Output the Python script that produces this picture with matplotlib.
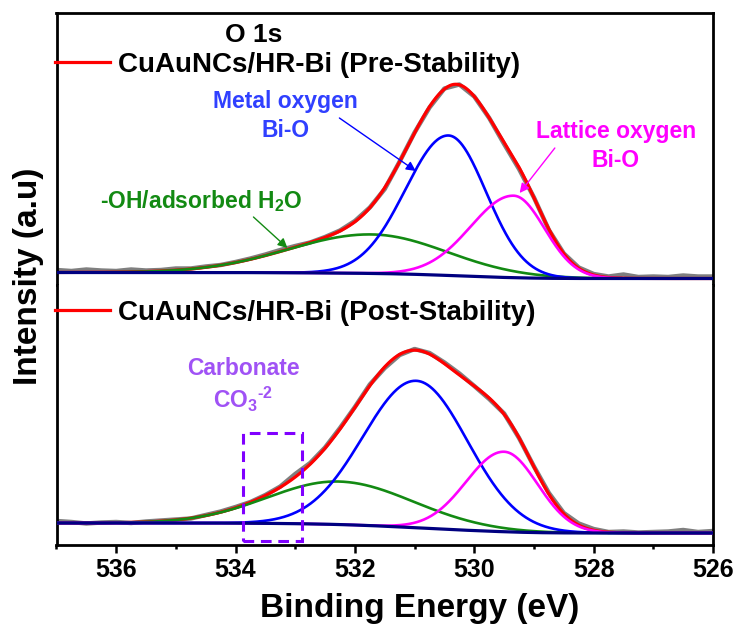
import numpy as np
import matplotlib
matplotlib.use("Agg")
import matplotlib.pyplot as plt
from matplotlib.patches import Rectangle
from matplotlib.ticker import MultipleLocator

plt.rcParams["font.family"] = ["Liberation Sans", "DejaVu Sans"]
plt.rcParams["font.weight"] = "bold"
plt.rcParams["mathtext.fontset"] = "custom"
plt.rcParams["mathtext.rm"] = "Liberation Sans:bold"
plt.rcParams["mathtext.it"] = "Liberation Sans:bold"
plt.rcParams["mathtext.bf"] = "Liberation Sans:bold"
plt.rcParams["mathtext.default"] = "rm"

# ---------------- data ----------------
# O 1s fit components: -OH/adsorbed H2O, metal oxygen Bi-O, lattice oxygen Bi-O
pre_center = [531.72, 530.43, 529.34]
pre_height = [39.0, 140.0, 82.0]
pre_hwhm_high = [1.63, 0.85, 0.85]   # half width toward higher binding energy
pre_hwhm_low = [1.48, 0.74, 0.61]    # half width toward lower binding energy
pre_background = [12.5, 6.5]         # Shirley background at 537 eV and 526 eV

post_center = [532.27, 530.97, 529.50]
post_height = [43.0, 147.0, 80.0]
post_hwhm_high = [1.40, 1.05, 0.75]
post_hwhm_low = [1.47, 1.01, 0.66]
post_background = [22.0, 12.0]

# measured spectra, 537 -> 526 eV in 0.25 eV steps
pre_raw = [15.0, 14.0, 15.5, 14.5, 14.0, 15.5, 14.5, 15.0, 16.5, 16.5,
           18.5, 20.0, 23.0, 26.5, 30.5, 35.0, 39.0, 42.5, 48.0, 54.5,
           64.0, 77.5, 96.0, 123.5, 152.5, 177.5, 196.5, 200.5, 188.5, 167.0,
           141.0, 116.0, 87.5, 55.0, 31.5, 17.5, 11.0, 8.5, 10.5, 8.0,
           8.5, 8.0, 9.5, 8.5, 8.5]
post_raw = [24.0, 23.0, 21.5, 22.5, 23.0, 22.0, 23.5, 24.5, 25.5, 26.5,
            30.0, 33.5, 38.0, 43.0, 50.0, 58.5, 71.0, 82.0, 97.5, 117.0,
            138.0, 160.5, 177.0, 190.0, 196.0, 192.0, 182.5, 171.5, 159.0, 146.0,
            131.5, 107.0, 78.5, 52.0, 32.0, 21.5, 16.0, 13.0, 13.5, 12.5,
            13.0, 13.5, 15.0, 13.0, 14.0]

carbonate_range = [533.87, 532.88]
carbonate_levels = [4.0, 112.0]

xticks_major = [536, 534, 532, 530, 528, 526]

labels = ["CuAuNCs/HR-Bi (Pre-Stability)", "CuAuNCs/HR-Bi (Post-Stability)"]

C_RED = "#FF0000"
C_GREEN = "#138A13"
C_BLUE = "#0000FF"
C_MAG = "#FF00FF"
C_NAVY = "#000080"
C_GRAY = "#7F7F7F"

energy = np.linspace(537, 526, 1101)
raw_energy = np.linspace(537, 526, len(pre_raw))


def component(E, c, h, hw_hi, hw_lo):
    s = np.where(E >= c, hw_hi, hw_lo) / np.sqrt(2 * np.log(2))
    return h * np.exp(-0.5 * ((E - c) / s) ** 2)


def fit_curves(centers, heights, hw_hi, hw_lo, bg_ends):
    comps = [component(energy, c, h, a, b)
             for c, h, a, b in zip(centers, heights, hw_hi, hw_lo)]
    total = np.sum(comps, axis=0)
    cum = np.cumsum(total[::-1])
    cum = cum / cum[-1]
    bg = (bg_ends[1] + (bg_ends[0] - bg_ends[1]) * cum)[::-1]
    return comps, bg, total + bg


fig = plt.figure(figsize=(7.4, 6.3), dpi=100)
ax1 = fig.add_axes([56.5 / 740, 1 - 285 / 630, 656.5 / 740, 272 / 630])
ax2 = fig.add_axes([56.5 / 740, 1 - 545 / 630, 656.5 / 740, 260 / 630])

panels = [
    (ax1, pre_center, pre_height, pre_hwhm_high, pre_hwhm_low, pre_background, pre_raw, 272, labels[0]),
    (ax2, post_center, post_height, post_hwhm_high, post_hwhm_low, post_background, post_raw, 260, labels[1]),
]

for ax, cen, hgt, hh, hl, bge, raw, ytop, lab in panels:
    comps, bg, envelope = fit_curves(cen, hgt, hh, hl, bge)
    ax.plot(raw_energy, raw, color=C_GRAY, lw=3.2, zorder=1)
    red, = ax.plot(energy, envelope, color=C_RED, lw=2.3, zorder=2, label=lab)
    for comp, col in zip(comps, [C_GREEN, C_BLUE, C_MAG]):
        ax.plot(energy, comp + bg, color=col, lw=1.9, zorder=3)
    ax.plot(energy, bg, color=C_NAVY, lw=2.3, zorder=4)
    ax.set_xlim(537, 526)
    ax.set_ylim(0, ytop)
    ax.set_yticks([])
    for sp in ax.spines.values():
        sp.set_linewidth(2.0)
    leg = ax.legend(handles=[red], loc="center left", frameon=False,
                    handlelength=1.98, handletextpad=0.3, borderaxespad=0,
                    borderpad=0, prop=dict(weight="bold", size=20))

ax1.get_legend().set_bbox_to_anchor((-0.003, 0.809), transform=ax1.transAxes)
ax2.get_legend().set_bbox_to_anchor((-0.003, 0.892), transform=ax2.transAxes)

ax1.spines["bottom"].set_visible(False)
ax2.spines["top"].set_visible(False)
ax1.set_xticks([])
ax2.set_xticks(xticks_major)
ax2.xaxis.set_minor_locator(MultipleLocator(1))
ax2.tick_params(axis="x", which="major", direction="out", length=5.5, width=1.8,
                labelsize=18, pad=4)
ax2.tick_params(axis="x", which="minor", direction="out", length=3, width=1.8)
for t in ax2.get_xticklabels():
    t.set_fontweight("bold")

# annotations, pre-stability panel
ax1.text(533.70, 243.3, "O 1s", ha="center", va="baseline", fontsize=19,
         fontweight="bold", color="black")
ax1.text(533.17, 177, "Metal oxygen", ha="center", va="baseline", fontsize=16.5,
         fontweight="bold", color="#3040FF")
ax1.text(533.16, 148, "Bi-O", ha="center", va="baseline", fontsize=16.5,
         fontweight="bold", color="#3040FF")
ax1.text(527.63, 147, "Lattice oxygen", ha="center", va="baseline", fontsize=16.5,
         fontweight="bold", color=C_MAG)
ax1.text(527.63, 118, "Bi-O", ha="center", va="baseline", fontsize=16.5,
         fontweight="bold", color=C_MAG)
ax1.text(534.58, 77, "-OH/adsorbed H$_2$O", ha="center", va="baseline",
         fontsize=16.5, fontweight="bold", color=C_GREEN)

arrow = dict(arrowstyle="-|>", lw=1.0, mutation_scale=14, shrinkA=0, shrinkB=0)
ax1.annotate("", xy=(530.98, 114), xytext=(532.26, 167),
             arrowprops=dict(arrow, color=C_BLUE))
ax1.annotate("", xy=(529.24, 92), xytext=(528.65, 137),
             arrowprops=dict(arrow, color=C_MAG))
ax1.annotate("", xy=(533.13, 37), xytext=(533.70, 68),
             arrowprops=dict(arrow, color=C_GREEN))

# annotations, post-stability panel
ax2.text(533.87, 170, "Carbonate", ha="center", va="baseline", fontsize=16.5,
         fontweight="bold", color="#A052F5")
ax2.text(533.87, 137, r"CO$_{3}{}^{\text{-2}}$", ha="center", va="baseline",
         fontsize=16.5, fontweight="bold", color="#A052F5")
ax2.add_patch(Rectangle((carbonate_range[0], carbonate_levels[0]),
                        carbonate_range[1] - carbonate_range[0],
                        carbonate_levels[1] - carbonate_levels[0],
                        fill=False, edgecolor="#8000FF", lw=2.2,
                        linestyle=(0, (3.5, 2.2)), zorder=5))

fig.text(29 / 740, 1 - 276 / 630, "Intensity (a.u)", rotation=90, ha="center",
         va="center", fontsize=24, fontweight="bold")
fig.text(420 / 740, 1 - 617 / 630, "Binding Energy (eV)", ha="center",
         va="baseline", fontsize=24, fontweight="bold")

fig.savefig("out.png", dpi=100)
